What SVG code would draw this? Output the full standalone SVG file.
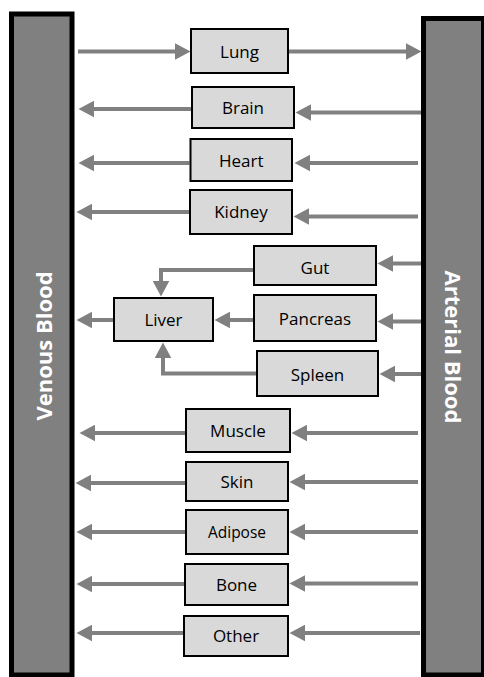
<svg xmlns="http://www.w3.org/2000/svg" width="484" height="677" viewBox="0 0 484 677">
<style>
.bar{fill:#808080;stroke:#000;stroke-width:5}
.bartxt{font-family:"Open Sans","Liberation Sans",sans-serif;font-weight:bold;font-size:22px;fill:#fff;text-anchor:middle}
.box{fill:#d9d9d9;stroke:#000;stroke-width:2}
.lbl{font-family:"Open Sans","Liberation Sans",sans-serif;font-size:17px;fill:#000;text-anchor:middle}
.con{fill:none;stroke:#808080;stroke-width:4}
</style>
<defs>
<marker id="ah" markerUnits="userSpaceOnUse" markerWidth="16" markerHeight="17" viewBox="0 -8.5 16 17" refX="0" refY="0" orient="auto">
<path d="M0,-8.3 L15.5,0 L0,8.3 z" fill="#808080"/>
</marker>
</defs>
<rect width="484" height="677" fill="#fff"/>
<g id="venous">
<rect class="bar" x="11.5" y="14" width="60.5" height="661"/>
<text class="bartxt" transform="translate(51.5,346) rotate(-90)">Venous Blood</text>
</g>
<g id="arterial">
<rect class="bar" x="423.5" y="18.5" width="60" height="656.5"/>
<text class="bartxt" transform="translate(444.5,347) rotate(90)">Arterial Blood</text>
</g>
<g id="connectors" class="con" marker-end="url(#ah)">
<path class="con" marker-end="url(#ah)" d="M78,51.5 H175"/>
<path class="con" marker-end="url(#ah)" d="M289,51.5 H406"/>
<path class="con" marker-end="url(#ah)" d="M421,112.5 H311"/>
<path class="con" marker-end="url(#ah)" d="M191,109 H94"/>
<path class="con" marker-end="url(#ah)" d="M418,163 H310"/>
<path class="con" marker-end="url(#ah)" d="M189.5,163 H94"/>
<path class="con" marker-end="url(#ah)" d="M418,216.5 H309"/>
<path class="con" marker-end="url(#ah)" d="M189,212 H92"/>
<path class="con" marker-end="url(#ah)" d="M421,263.5 H393"/>
<path class="con" marker-end="url(#ah)" d="M253,270 H161 V281"/>
<path class="con" marker-end="url(#ah)" d="M421,321.5 H393"/>
<path class="con" marker-end="url(#ah)" d="M253,320 H230"/>
<path class="con" marker-end="url(#ah)" d="M113,320 H92"/>
<path class="con" marker-end="url(#ah)" d="M421,374 H395"/>
<path class="con" marker-end="url(#ah)" d="M256,373.5 H163 V358"/>
<path class="con" marker-end="url(#ah)" d="M418,433 H307"/>
<path class="con" marker-end="url(#ah)" d="M185,433 H95"/>
<path class="con" marker-end="url(#ah)" d="M418,482 H305"/>
<path class="con" marker-end="url(#ah)" d="M185,483 H91"/>
<path class="con" marker-end="url(#ah)" d="M418,532 H305"/>
<path class="con" marker-end="url(#ah)" d="M185,532 H92"/>
<path class="con" marker-end="url(#ah)" d="M418,583.5 H305"/>
<path class="con" marker-end="url(#ah)" d="M184,584 H92"/>
<path class="con" marker-end="url(#ah)" d="M420,633 H305"/>
<path class="con" marker-end="url(#ah)" d="M183,633 H92"/>
</g>
<g id="lung"><rect class="box" x="191" y="29" width="97" height="44"/><text class="lbl" x="239.5" y="57.5">Lung</text></g>
<g id="brain"><rect class="box" x="192" y="87" width="102" height="41"/><text class="lbl" x="243" y="114">Brain</text></g>
<g id="heart"><rect class="box" x="190.5" y="139" width="101.5" height="42"/><text class="lbl" x="241.3" y="166.5">Heart</text></g>
<g id="kidney"><rect class="box" x="190" y="190" width="102" height="44"/><text class="lbl" x="241" y="218">Kidney</text></g>
<g id="gut"><rect class="box" x="254" y="246" width="122" height="39"/><text class="lbl" x="315" y="274">Gut</text></g>
<g id="pancreas"><rect class="box" x="254" y="295" width="122" height="46"/><text class="lbl" x="315" y="324.5">Pancreas</text></g>
<g id="spleen"><rect class="box" x="257" y="351" width="121" height="45"/><text class="lbl" x="317.5" y="380.5">Spleen</text></g>
<g id="liver"><rect class="box" x="114" y="298" width="99" height="43"/><text class="lbl" x="163.5" y="326">Liver</text></g>
<g id="muscle"><rect class="box" x="186" y="409" width="104" height="43"/><text class="lbl" x="238" y="437">Muscle</text></g>
<g id="skin"><rect class="box" x="186" y="462" width="102" height="39"/><text class="lbl" x="237" y="488">Skin</text></g>
<g id="adipose"><rect class="box" x="186" y="510" width="102" height="44"/><text class="lbl" x="237" y="538" style="font-size:15.5px">Adipose</text></g>
<g id="bone"><rect class="box" x="185" y="564" width="103" height="41"/><text class="lbl" x="236.5" y="591">Bone</text></g>
<g id="other"><rect class="box" x="184" y="616" width="104" height="40"/><text class="lbl" x="236" y="642">Other</text></g>
</svg>
